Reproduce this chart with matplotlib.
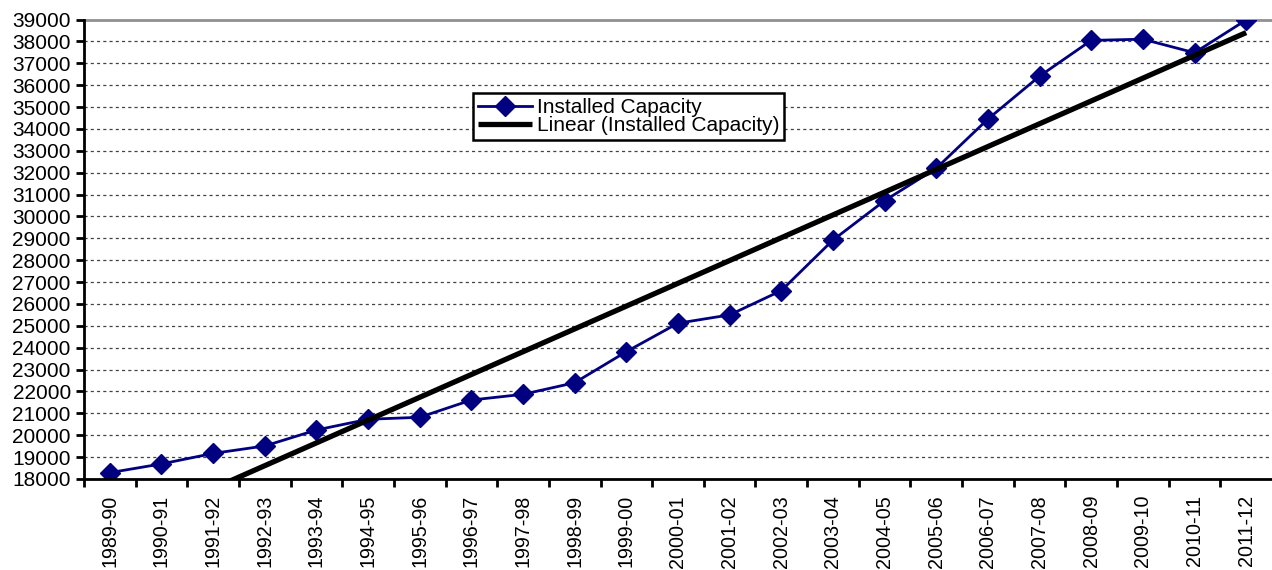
import numpy as np
import matplotlib
matplotlib.use("Agg")
import matplotlib.pyplot as plt

years = ["1989-90", "1990-91", "1991-92", "1992-93", "1993-94", "1994-95", "1995-96",
         "1996-97", "1997-98", "1998-99", "1999-00", "2000-01", "2001-02", "2002-03",
         "2003-04", "2004-05", "2005-06", "2006-07", "2007-08", "2008-09", "2009-10",
         "2010-11", "2011-12"]
capacity = [18290, 18690, 19170, 19510, 20240, 20730, 20820, 21610, 21870, 22400, 23820,
            25120, 25500, 26610, 28920, 30720, 32200, 34450, 36410, 38045, 38100, 37480, 38980]
y_ticks = list(range(18000, 39001, 1000))

plt.rcParams['font.family'] = ['Liberation Sans', 'DejaVu Sans']

fig = plt.figure(figsize=(12.72, 5.70), dpi=100)
ax = fig.add_axes([84 / 1272, 1 - 479 / 570, 1 - 84 / 1272, (479 - 19.5) / 570])

x = np.arange(len(years))
ax.plot(x, capacity, color="#000080", lw=2, marker="D", ms=10, mfc="#000080",
        mec="#000080", label="Installed Capacity", zorder=3)

coef = np.polyfit(x, capacity, 1)
trend = np.polyval(coef, x)
ax.plot(x, trend, color="black", lw=3.8, label="Linear (Installed Capacity)", zorder=4,
        solid_capstyle="butt")

ax.set_xlim(-0.5, len(years) - 0.5)
ax.set_ylim(18000, 39000)
ax.set_yticks(y_ticks)
ax.set_yticklabels([str(v) for v in y_ticks], fontsize=15)
ax.set_xticks(x)
ax.set_xticklabels(years, rotation=90, fontsize=14.2)
ax.set_xticks(np.arange(len(years)) - 0.5, minor=True)
ax.tick_params(axis="x", which="major", length=0, pad=11.5)
ax.tick_params(axis="x", which="minor", length=6, width=2, direction="out")
ax.tick_params(axis="y", length=6, width=2, direction="out", pad=3.5)

for v in y_ticks[:-1]:
    ax.axhline(v, color="#444444", lw=0.9, ls=(0, (2.5, 2.5)), zorder=1)
ax.axhline(39000, color="#909090", lw=2, zorder=1, clip_on=False)

for s in ["top", "right"]:
    ax.spines[s].set_visible(False)
for s in ["left", "bottom"]:
    ax.spines[s].set_linewidth(2)
    ax.spines[s].set_color("black")
    ax.spines[s].set_zorder(5)

leg = ax.legend(loc="upper left", bbox_to_anchor=((473 - 84) / 1188, 1 - (93 - 19.5) / 459.5),
                fontsize=15, frameon=True, fancybox=False, edgecolor="black", framealpha=1,
                borderpad=0.25, labelspacing=-0.05, handlelength=2.6, handletextpad=0.2,
                borderaxespad=0)
leg.get_frame().set_linewidth(1.8)

fig.savefig("out.png", dpi=100)
